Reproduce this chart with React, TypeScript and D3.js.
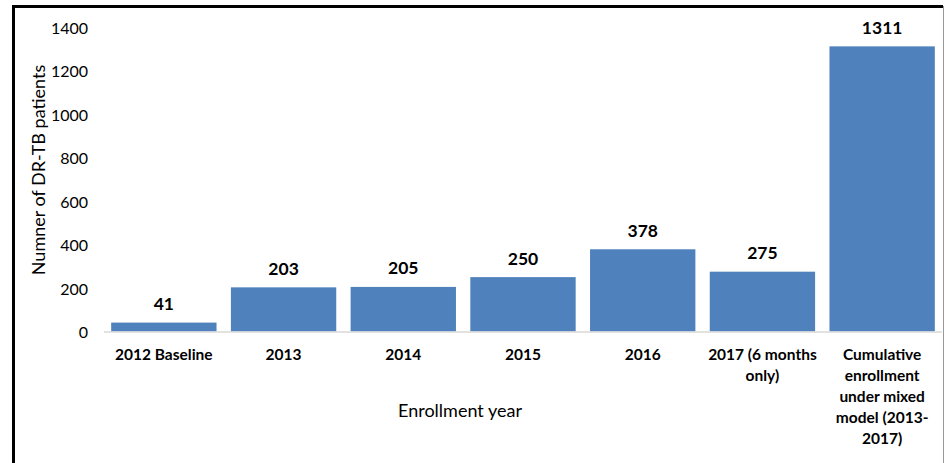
import React from "react";
import * as d3 from "d3";

const categories = [
  "2012 Baseline",
  "2013",
  "2014",
  "2015",
  "2016",
  "2017 (6 months\nonly)",
  "Cumulative\nenrollment\nunder mixed\nmodel (2013-\n2017)",
];
const values = [41, 203, 205, 250, 378, 275, 1311];
const yTicks = [0, 200, 400, 600, 800, 1000, 1200, 1400];
const yTitle = "Numner of DR-TB patients";
const xTitle = "Enrollment year";

const W = 945;
const H = 463;
const FONT = "Lato, 'Open Sans', sans-serif";

export default function App() {
  const plotLeft = 104;
  const plotRight = 942;
  const y = d3.scaleLinear().domain([0, 1400]).range([331.5, 27]);
  const x = d3
    .scaleBand<string>()
    .domain(categories)
    .range([plotLeft, plotRight])
    .paddingInner(0.12)
    .paddingOuter(0.06);

  return (
    <svg
      width={W}
      height={H}
      style={{ position: "absolute", left: 0, top: 0, background: "#fff" }}
      fontFamily={FONT}
    >
      {/* frame */}
      <line x1={13.5} y1={6.5} x2={943} y2={6.5} stroke="#000" strokeWidth={3} />
      <line x1={13.5} y1={5} x2={13.5} y2={H} stroke="#000" strokeWidth={3} />
      <line x1={943.5} y1={6} x2={943.5} y2={H} stroke="#999" strokeWidth={1} />

      {/* y tick labels */}
      {yTicks.map((t) => (
        <text
          key={t}
          x={88}
          y={y(t)}
          textAnchor="end"
          dominantBaseline="central"
          fontSize={16}
          fill="#000"
        >
          {t}
        </text>
      ))}

      {/* bars */}
      {categories.map((c, i) => (
        <rect
          key={c}
          x={x(c)}
          y={y(values[i])}
          width={x.bandwidth()}
          height={y(0) - y(values[i])}
          fill="#4F81BD"
        />
      ))}

      {/* axis line */}
      <line x1={plotLeft} y1={y(0) + 0.5} x2={plotRight} y2={y(0) + 0.5} stroke="#d9d9d9" strokeWidth={1.5} />

      {/* value labels */}
      {categories.map((c, i) => (
        <text
          key={c}
          x={(x(c) as number) + x.bandwidth() / 2}
          y={y(values[i]) - 19}
          textAnchor="middle"
          dominantBaseline="central"
          fontSize={17.5}
          fontWeight="bold"
          fill="#000"
        >
          {values[i]}
        </text>
      ))}

      {/* category labels */}
      {categories.map((c) => (
        <text
          key={c}
          textAnchor="middle"
          fontSize={15.5}
          fontWeight="bold"
          fill="#000"
        >
          {c.split("\n").map((line, j) => (
            <tspan
              key={j}
              x={(x(c) as number) + x.bandwidth() / 2}
              y={354 + j * 21}
              dominantBaseline="central"
            >
              {line}
            </tspan>
          ))}
        </text>
      ))}

      {/* axis titles */}
      <text x={460} y={410} textAnchor="middle" dominantBaseline="central" fontSize={18} fill="#000">
        {xTitle}
      </text>
      <text
        transform={`translate(38,170) rotate(-90)`}
        textAnchor="middle"
        dominantBaseline="central"
        fontSize={18}
        fill="#000"
      >
        {yTitle}
      </text>
    </svg>
  );
}
